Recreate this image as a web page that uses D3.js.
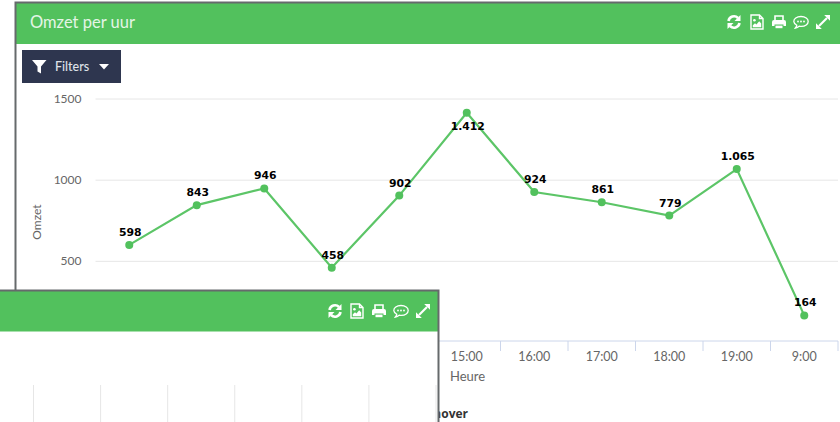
<!DOCTYPE html>
<html>
<head>
<meta charset="utf-8">
<script src="https://cdn.jsdelivr.net/npm/d3@7"></script>
<style>
  html, body { margin: 0; padding: 0; background: #fff; overflow: hidden; }
  text { font-family: Lato, sans-serif; }
</style>
</head>
<body>
<div id="chart"></div>
<script>
const hours = ['10:00', '11:00', '12:00', '13:00', '14:00', '15:00', '16:00', '17:00', '18:00', '19:00', '9:00'];
const turnover = [598, 843, 946, 458, 902, 1412, 924, 861, 779, 1065, 164];
const yTicks = [500, 1000, 1500];
const lowerColumns = ['a', 'b', 'c', 'd', 'e', 'f', 'g'];

const width = 840;
const height = 422;
const green = '#52c15d';
const frame = '#666a6c';

const svg = d3
  .select('#chart')
  .append('svg')
  .attr('width', width)
  .attr('height', height)
  .style('display', 'block');

const xScale = d3.scaleBand().domain(hours).range([95.5, 838]);
const yScale = d3.scaleLinear().domain([0, 1500]).range([342, 98.5]);
const labelFormat = d3.formatLocale({ decimal: ',', thousands: '.', grouping: [3], currency: ['', ''] }).format(',d');
const cx = (h) => xScale(h) + xScale.bandwidth() / 2;

// white action icons, drawn around 0,0
const icons = [
  (g) => {
    g.append('path').attr('d', 'M-5.5,-1 A5.6,5.6 0 0 1 4,-4').attr('fill', 'none').attr('stroke', '#fff').attr('stroke-width', 2.6);
    g.append('path').attr('d', 'M6.5,-7 V-1 H0.5 Z').attr('fill', '#fff');
    g.append('path').attr('d', 'M5.5,1 A5.6,5.6 0 0 1 -4,4').attr('fill', 'none').attr('stroke', '#fff').attr('stroke-width', 2.6);
    g.append('path').attr('d', 'M-6.5,7 V1 H-0.5 Z').attr('fill', '#fff');
  },
  (g) => {
    g.append('path').attr('d', 'M-6,-7 H2.5 L6,-3.5 V7 H-6 Z M2.5,-7 V-3.5 H6').attr('fill', 'none').attr('stroke', '#fff').attr('stroke-width', 1.4);
    g.append('circle').attr('cx', -2.6).attr('cy', -1.8).attr('r', 1.3).attr('fill', '#fff');
    g.append('path').attr('d', 'M-4.2,5.2 V3.2 L-2,1.3 L-0.6,2.6 L2.2,-0.7 L4.2,1.5 V5.2 Z').attr('fill', '#fff');
  },
  (g) => {
    g.append('path').attr('d', 'M-4,-1 V-6 H4 V-1').attr('fill', 'none').attr('stroke', '#fff').attr('stroke-width', 1.6);
    g.append('path').attr('d', 'M-7,0 Q-7,-2 -5,-2 H5 Q7,-2 7,0 V4 H4.5 V2.5 H-4.5 V4 H-7 Z').attr('fill', '#fff');
    g.append('path').attr('d', 'M-3.5,3.6 H3.5 V6.2 H-3.5 Z').attr('fill', '#fff');
  },
  (g) => {
    g.append('path').attr('d', 'M0,-5.5 C4.4,-5.5 7.2,-3.2 7.2,-0.5 C7.2,2.3 4.2,4.4 0.3,4.4 C-0.5,4.4 -1.2,4.3 -1.8,4.2 C-3,5.2 -4.4,5.8 -5.6,6 C-4.8,5 -4.3,4 -4.2,3.2 C-6,2.2 -7.2,0.9 -7.2,-0.5 C-7.2,-3.2 -4.4,-5.5 0,-5.5 Z').attr('fill', 'none').attr('stroke', '#fff').attr('stroke-width', 1.3);
    g.selectAll('circle').data([-3, 0, 3]).enter().append('circle').attr('cx', (d) => d).attr('cy', -0.5).attr('r', 0.9).attr('fill', '#fff');
  },
  (g) => {
    g.append('path').attr('d', 'M-4,4 L4,-4').attr('stroke', '#fff').attr('stroke-width', 2.2);
    g.append('path').attr('d', 'M1.2,-7 H7 V-1.2 Z').attr('fill', '#fff');
    g.append('path').attr('d', 'M-7,1.2 V7 H-1.2 Z').attr('fill', '#fff');
  },
];

const drawIcons = (xs, y) => {
  xs.forEach((x, i) => {
    icons[i](svg.append('g').attr('transform', `translate(${x}, ${y})`));
  });
};

// Upper panel
svg.append('rect').attr('x', 16).attr('y', 3).attr('width', 830).attr('height', 41).attr('fill', green);
svg.append('path').attr('d', 'M15.5,300 V2.5 H840').attr('fill', 'none').attr('stroke', frame).attr('stroke-width', 2);
svg.append('text').attr('x', 30).attr('y', 28).attr('font-size', 16.5).attr('fill', '#e4f5e6').text('Omzet per uur');
drawIcons([734, 757, 779, 801, 823], 22);

// Filters button
svg.append('rect').attr('x', 22).attr('y', 50).attr('width', 99).attr('height', 33).attr('fill', '#2e364f');
svg.append('path').attr('d', 'M32,60 H46.5 L41,66.5 V73.5 L37.5,71.5 V66.5 Z').attr('fill', '#fff');
svg.append('text').attr('x', 55).attr('y', 70.5).attr('font-size', 12.5).attr('font-weight', 500).attr('fill', '#dfe2e8').text('Filters');
svg.append('path').attr('d', 'M99,64 H109 L104,69.5 Z').attr('fill', '#fff');

// Grid and y axis
const yAxisGroup = svg
  .append('g')
  .attr('transform', 'translate(95.5, 0)')
  .call(d3.axisLeft(yScale).tickValues(yTicks).tickFormat(d3.format('d')).tickSize(0).tickPadding(14));
yAxisGroup.select('.domain').remove();
yAxisGroup.selectAll('text').attr('font-size', 12).attr('font-family', 'Lato, sans-serif').attr('fill', '#666');
yAxisGroup
  .selectAll('line')
  .attr('x2', 742.5)
  .attr('stroke', '#e6e6e6');

// x axis
const axisLine = svg
  .append('g')
  .attr('transform', 'translate(0, 341)');
axisLine.append('line').attr('x1', 95.5).attr('x2', 838).attr('stroke', '#ccd6eb');
axisLine
  .selectAll('.tick-mark')
  .data(hours.concat('end'))
  .enter()
  .append('line')
  .attr('class', 'tick-mark')
  .attr('x1', (d) => (d === 'end' ? 838 : xScale(d)))
  .attr('x2', (d) => (d === 'end' ? 838 : xScale(d)))
  .attr('y2', 10)
  .attr('stroke', '#ccd6eb');
axisLine
  .selectAll('.hour')
  .data(hours)
  .enter()
  .append('text')
  .attr('class', 'hour')
  .attr('x', cx)
  .attr('y', 20)
  .attr('text-anchor', 'middle')
  .attr('font-size', 12.5)
  .attr('fill', '#666')
  .text((d) => d);

svg.append('text').attr('x', 467.5).attr('y', 381).attr('text-anchor', 'middle').attr('font-size', 13).attr('fill', '#666').text('Heure');
svg
  .append('text')
  .attr('transform', 'translate(41, 222) rotate(-90)')
  .attr('text-anchor', 'middle')
  .attr('font-size', 12)
  .attr('fill', '#666')
  .text('Omzet');

// Series
const line = d3
  .line()
  .x((d, i) => cx(hours[i]))
  .y((d) => yScale(d));
svg.append('path').datum(turnover).attr('d', line).attr('fill', 'none').attr('stroke', '#5cc567').attr('stroke-width', 2.2);
svg
  .selectAll('.dot')
  .data(turnover)
  .enter()
  .append('circle')
  .attr('class', 'dot')
  .attr('r', 4)
  .attr('cx', (d, i) => cx(hours[i]))
  .attr('cy', (d) => yScale(d))
  .attr('fill', green);
svg
  .selectAll('.value')
  .data(turnover)
  .enter()
  .append('text')
  .attr('class', 'value')
  .attr('x', (d, i) => cx(hours[i]) + 1)
  // the top point does not fit above the line, its label goes under it
  .attr('y', (d) => yScale(d) + (d > 1400 ? 17 : -9))
  .attr('text-anchor', 'middle')
  .style('font-family', 'DejaVu Sans, sans-serif')
  .attr('font-size', 10.8)
  .attr('font-weight', 700)
  .attr('fill', '#000')
  .text((d) => labelFormat(d));

svg.append('text').attr('x', 468).attr('y', 418).attr('text-anchor', 'end').style('font-family', 'Open Sans, sans-serif').attr('font-size', 12).attr('font-weight', 700).attr('fill', '#333').text('Turnover');

// Lower panel, on top of the first one
svg.append('rect').attr('x', 0).attr('y', 291).attr('width', 438).attr('height', 131).attr('fill', '#fff');
svg.append('rect').attr('x', 0).attr('y', 291).attr('width', 438).attr('height', 40.5).attr('fill', green);

const lowerScale = d3.scalePoint().domain(lowerColumns).range([33.5, 436]);
svg
  .selectAll('.lower-grid')
  .data(lowerColumns)
  .enter()
  .append('line')
  .attr('class', 'lower-grid')
  .attr('x1', lowerScale)
  .attr('x2', lowerScale)
  .attr('y1', 385)
  .attr('y2', 422)
  .attr('stroke', '#e6e6e6');

svg.append('path').attr('d', 'M0,290.5 H438.5 V422').attr('fill', 'none').attr('stroke', frame).attr('stroke-width', 2);
drawIcons([335, 357, 379, 401, 423], 311);
</script>
</body>
</html>
